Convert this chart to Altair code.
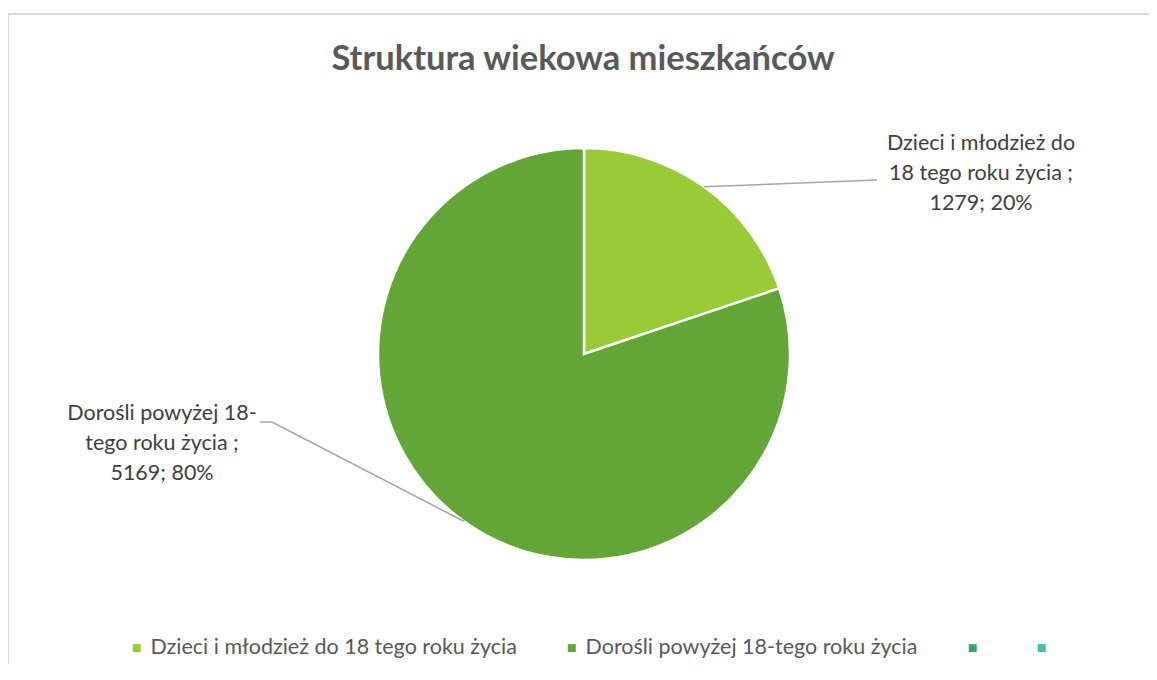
import math
import altair as alt
import pandas as pd

# ---- data ----
categories = ["Dzieci i młodzież do 18 tego roku życia", "Dorośli powyżej 18-tego roku życia"]
values = [1279, 5169]
percents = [20, 80]
label_heads = [["Dzieci i młodzież do", "18 tego roku życia ;"], ["Dorośli powyżej 18-", "tego roku życia ;"]]
extra_series = ["Seria 3", "Seria 4"]          # shown in legend with no label
colors = ["#99CB38", "#63A537", "#37A76F", "#44C1A3"]
title_text = "Struktura wiekowa mieszkańców"

# ---- layout (styles / positions) ----
W, H = 1141, 656
CX, CY, R = 576, 346, 206
FONT = "Lato"
TXT = "#404040"
GREY = "#595959"
FS = 21.5

df = pd.DataFrame({"cat": categories, "value": values, "idx": list(range(len(values)))})

domain = categories + extra_series
label_expr = "indexof(%s, datum.label) >= 0 ? '' : datum.label" % str(extra_series)

pie = alt.Chart(df).mark_arc(outerRadius=R, stroke="white", strokeWidth=2.5).encode(
    theta=alt.Theta("value:Q", stack=True),
    color=alt.Color("cat:N", scale=alt.Scale(domain=domain, range=colors),
                    legend=alt.Legend(orient="none", legendX=118, legendY=629,
                                      direction="horizontal", title=None,
                                      symbolType="square", symbolSize=64,
                                      symbolStrokeWidth=0,
                                      labelFont=FONT, labelFontSize=FS,
                                      labelColor=GREY, labelLimit=700,
                                      columnPadding=44, labelOffset=3,
                                      labelExpr=label_expr)),
    order=alt.Order("idx:Q"),
    x=alt.value(CX), y=alt.value(CY),
)

# leader line start points at slice mid-angles on the pie edge
total = sum(values)
mids = []
acc = 0
for v in values:
    a = (acc + v / 2) / total * 2 * math.pi
    mids.append((CX + R * math.sin(a), CY - R * math.cos(a)))
    acc += v

one = pd.DataFrame({"a": [0]})
layers = []

# border frame (only top and left edges are inside the view)
frame = "#D9D9D9"
layers.append(alt.Chart(one).mark_rule(color=frame, strokeWidth=2).encode(
    x=alt.value(0), x2=alt.value(W), y=alt.value(6), y2=alt.value(6)))
layers.append(alt.Chart(one).mark_rule(color=frame, strokeWidth=2).encode(
    x=alt.value(0), x2=alt.value(0), y=alt.value(6), y2=alt.value(H)))

layers.append(pie)

line_col = "#A6A6A6"
# leader 1
layers.append(alt.Chart(one).mark_rule(color=line_col, strokeWidth=1.5).encode(
    x=alt.value(mids[0][0]), y=alt.value(mids[0][1]), x2=alt.value(869), y2=alt.value(172)))
# leader 2 (bent)
layers.append(alt.Chart(one).mark_rule(color=line_col, strokeWidth=1.5).encode(
    x=alt.value(mids[1][0]), y=alt.value(mids[1][1]), x2=alt.value(264), y2=alt.value(414)))
layers.append(alt.Chart(one).mark_rule(color=line_col, strokeWidth=1.5).encode(
    x=alt.value(264), y=alt.value(414), x2=alt.value(252), y2=alt.value(414)))

label_pos = [(973, 136), (154, 406)]
for i in range(len(values)):
    txt = "\n".join(label_heads[i] + [f"{values[i]}; {percents[i]}%"])
    layers.append(alt.Chart(pd.DataFrame({"t": [txt]})).mark_text(
        font=FONT, fontSize=FS, color=TXT, align="center", baseline="middle",
        lineBreak="\n", lineHeight=30).encode(
        text="t:N", x=alt.value(label_pos[i][0]), y=alt.value(label_pos[i][1])))

layers.append(alt.Chart(pd.DataFrame({"t": [title_text]})).mark_text(
    font=FONT, fontSize=34.5, fontWeight="bold", color=GREY, align="center", baseline="middle").encode(
    text="t:N", x=alt.value(575), y=alt.value(52)))

chart = alt.layer(*layers).properties(
    width=W, height=H, autosize=alt.AutoSizeParams(type="none"), padding=0
).configure_view(strokeOpacity=0, strokeWidth=0)

chart.save("out.html", embed_options={"renderer": "svg", "actions": False})
